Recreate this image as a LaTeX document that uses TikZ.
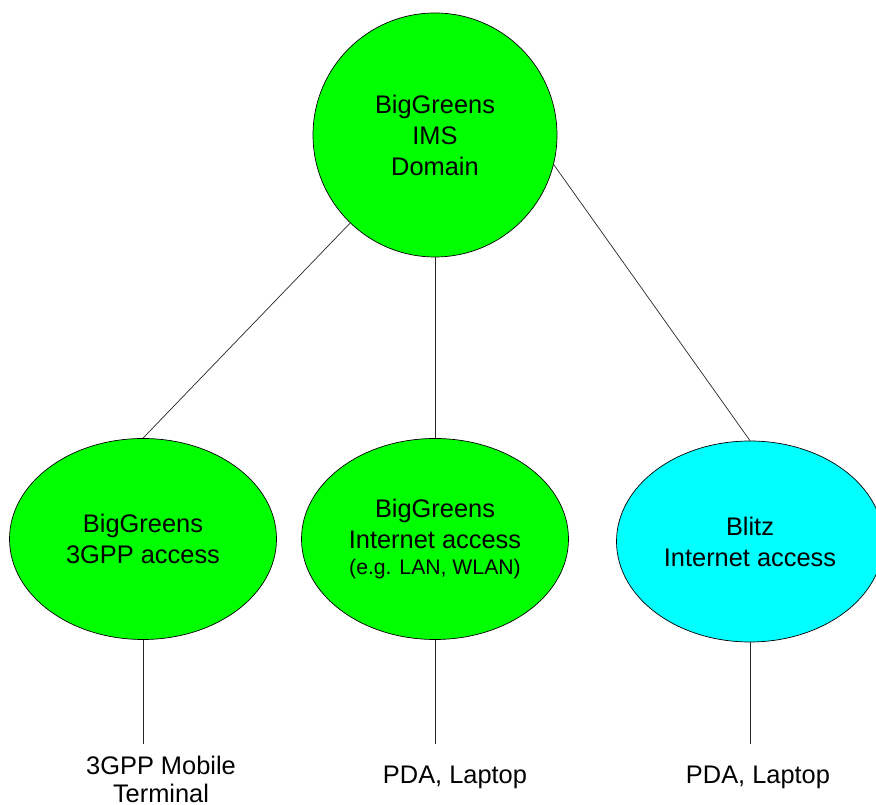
\documentclass[tikz,border=0pt]{standalone}
\usepackage{fontspec}
\setmainfont{Liberation Sans}
\usetikzlibrary{shapes.geometric}
\definecolor{netgreen}{RGB}{0,255,0}
\definecolor{netcyan}{RGB}{0,255,255}
\begin{document}
\begin{tikzpicture}[x=1pt,y=1pt,
  netzone/.style={draw=black, line width=0.7pt, inner sep=0pt, align=center,
    font=\fontsize{25.4}{31}\selectfont},
  core/.style={netzone, circle, fill=netgreen, minimum size=244},
  access/.style={netzone, ellipse, minimum width=267, minimum height=201},
  link/.style={draw=black!85, line width=0.7pt},
  device/.style={align=center, anchor=base, font=\fontsize{25.4}{28}\selectfont}]
\useasboundingbox (0,0) rectangle (876,805);

% core IMS domain
\node[core] (ims) at (435,670) {BigGreens\\IMS\\Domain};

% access networks
\node[access, fill=netgreen] (gpp) at (143,266) {BigGreens\\3GPP access};
\node[access, fill=netgreen] (inet) at (435,266)
  {BigGreens\\Internet access\\[-5pt]{\fontsize{21.2}{26}\selectfont (e.g. LAN, WLAN)}};
\node[access, fill=netcyan] (blitz) at (750,263.5) {Blitz\\Internet access};

% terminals
\coordinate (gppEnd) at (143,61);
\coordinate (inetEnd) at (435,61);
\coordinate (blitzEnd) at (750,61);
\node[device] (mobile) at (161,2) {3GPP Mobile\\Terminal};
\node[device] (pda1) at (455,21) {PDA, Laptop};
\node[device] (pda2) at (758,21) {PDA, Laptop};

% links between domains
\draw[link] (ims) -- (gpp.north);
\draw[link] (ims.south) -- (inet.north);
\draw[link] (ims.-14) -- (blitz.north);
\draw[link] (gpp.south) -- (gppEnd);
\draw[link] (inet.south) -- (inetEnd);
\draw[link] (blitz.south) -- (blitzEnd);
\end{tikzpicture}
\end{document}
